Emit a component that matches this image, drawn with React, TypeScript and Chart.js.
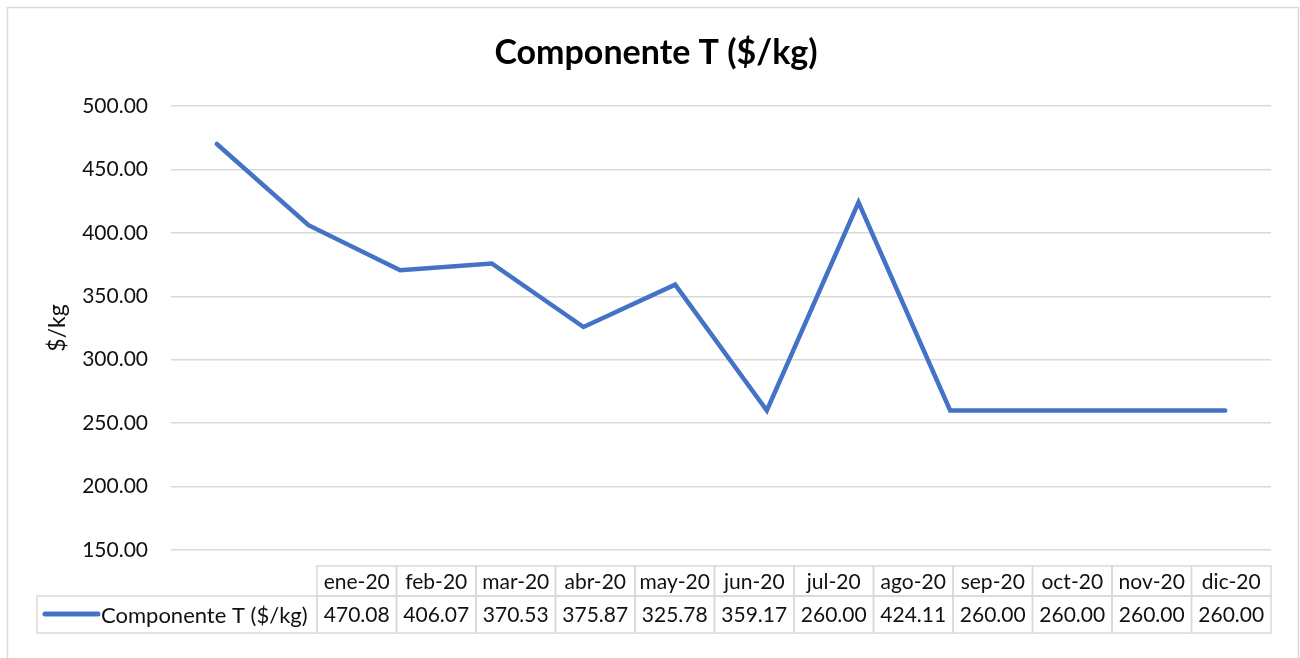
import React, { useEffect, useRef } from "react";
import { Chart, registerables } from "chart.js";

Chart.register(...registerables);

const chartTitle = "Componente T ($/kg)";
const yAxisTitle = "$/kg";
const seriesName = "Componente T ($/kg)";
const categories = [
  "ene-20", "feb-20", "mar-20", "abr-20", "may-20", "jun-20",
  "jul-20", "ago-20", "sep-20", "oct-20", "nov-20", "dic-20",
];
const values = [470.08, 406.07, 370.53, 375.87, 325.78, 359.17, 260.0, 424.11, 260.0, 260.0, 260.0, 260.0];
const yMin = 150;
const yMax = 500;
const yStep = 50;

const LINE_COLOR = "#4472C4";
const GRID_COLOR = "#d9d9d9";
const TEXT_COLOR = "#111";
const FONT = "Lato, 'Open Sans', sans-serif";

const decoPlugin = {
  id: "deco",
  afterDraw(chart: any) {
    const ctx = chart.ctx as CanvasRenderingContext2D;
    ctx.save();
    // outer border
    ctx.strokeStyle = GRID_COLOR;
    ctx.lineWidth = 1.5;
    ctx.strokeRect(7.5, 7.5, 1291, 700);

    // title
    ctx.fillStyle = "#000";
    ctx.font = `bold 34px ${FONT}`;
    ctx.textAlign = "center";
    ctx.textBaseline = "alphabetic";
    ctx.fillText(chartTitle, 656, 64);

    // y axis title
    ctx.save();
    ctx.translate(58, 328);
    ctx.rotate(-Math.PI / 2);
    ctx.font = `23px ${FONT}`;
    ctx.fillStyle = TEXT_COLOR;
    ctx.textAlign = "center";
    ctx.textBaseline = "middle";
    ctx.fillText(yAxisTitle, 0, 0);
    ctx.restore();

    // data table
    const left = 317;
    const right = chart.chartArea.right;
    const colW = (right - left) / categories.length;
    const hTop = 566, hBot = 596, dBot = 633;
    ctx.strokeStyle = GRID_COLOR;
    ctx.lineWidth = 1.5;
    ctx.font = `21px ${FONT}`;
    ctx.fillStyle = TEXT_COLOR;
    ctx.textBaseline = "middle";
    ctx.textAlign = "center";
    categories.forEach((c, i) => {
      const x0 = left + i * colW;
      ctx.strokeRect(x0, hTop, colW, hBot - hTop);
      ctx.strokeRect(x0, hBot, colW, dBot - hBot);
      ctx.fillText(c, x0 + colW / 2, (hTop + hBot) / 2 + 1);
      ctx.fillText(values[i].toFixed(2), x0 + colW / 2, (hBot + dBot) / 2 + 1);
    });
    ctx.strokeRect(37, hBot, left - 37, dBot - hBot);

    // legend key
    ctx.strokeStyle = LINE_COLOR;
    ctx.lineWidth = 5;
    ctx.lineCap = "round";
    ctx.beginPath();
    ctx.moveTo(45, 614);
    ctx.lineTo(98, 614);
    ctx.stroke();
    ctx.textAlign = "left";
    ctx.font = `22px ${FONT}`;
    ctx.fillText(seriesName, 101, (hBot + dBot) / 2 + 1);
    ctx.restore();
  },
};

export default function App() {
  const ref = useRef<HTMLCanvasElement | null>(null);
  useEffect(() => {
    if (!ref.current) return;
    const chart = new Chart(ref.current, {
      type: "line",
      data: {
        labels: categories,
        datasets: [
          {
            label: seriesName,
            data: values,
            borderColor: LINE_COLOR,
            backgroundColor: LINE_COLOR,
            borderWidth: 4.5,
            pointRadius: 0,
            tension: 0,
            borderCapStyle: "round",
            borderJoinStyle: "miter",
          },
        ],
      },
      options: {
        animation: false,
        responsive: false,
        devicePixelRatio: 1,
        layout: { padding: { top: 106, bottom: 108, left: 0, right: 29 } },
        plugins: {
          legend: { display: false },
          title: { display: false },
          tooltip: { enabled: false },
        },
        scales: {
          x: { display: false, offset: true },
          y: {
            min: yMin,
            max: yMax,
            afterFit: (scale: any) => {
              scale.width = 171;
            },
            ticks: {
              stepSize: yStep,
              padding: 23,
              color: TEXT_COLOR,
              font: { family: FONT, size: 21 },
              callback: (v: any) => Number(v).toFixed(2),
            },
            grid: { color: GRID_COLOR, lineWidth: 1.5, drawTicks: false },
            border: { display: false },
          },
        },
      },
      plugins: [decoPlugin],
    });
    return () => chart.destroy();
  }, []);
  return (
    <div style={{ position: "fixed", left: 0, top: 0, width: 1300, height: 658, background: "#fff" }}>
      <canvas ref={ref} width={1300} height={658} style={{ display: "block" }} />
    </div>
  );
}
